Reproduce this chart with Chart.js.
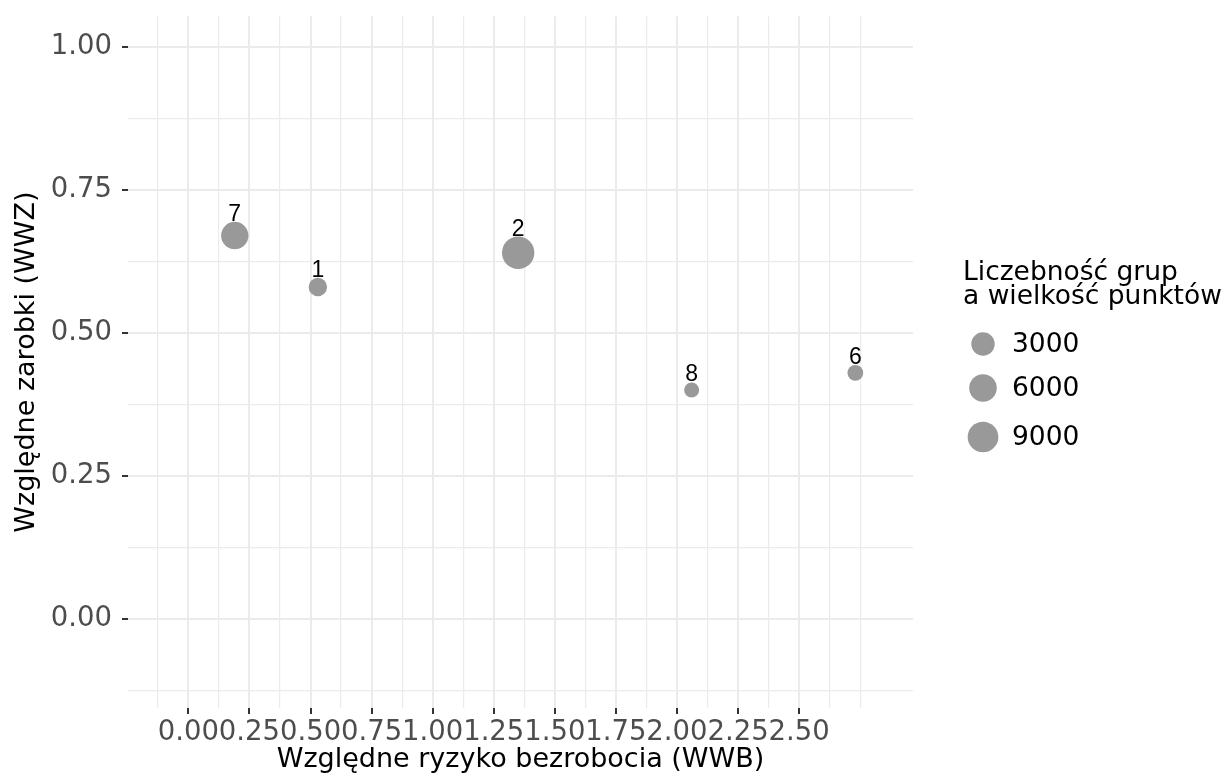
<!DOCTYPE html>
<html><head><meta charset="utf-8">
<script src="https://cdn.jsdelivr.net/npm/chart.js@4"></script>
<style>html,body{margin:0;padding:0;background:#fff}#wrap{width:1225px;height:784px;position:relative}</style>
</head><body><div id="wrap"><canvas id="c"></canvas></div>
<script>
// ---- data ----
const groups = ['7', '1', '2', '8', '6'];
const wwb = [0.19, 0.53, 1.35, 2.06, 2.73];
const wwz = [0.67, 0.58, 0.64, 0.40, 0.43];
const counts = [5800, 1000, 10900, 600, 620];
const legendBreaks = [3000, 6000, 9000];
const xMajor = [0, 0.25, 0.5, 0.75, 1, 1.25, 1.5, 1.75, 2, 2.25, 2.5];
const xMinor = [-0.125, 0.125, 0.375, 0.625, 0.875, 1.125, 1.375, 1.625, 1.875, 2.125, 2.375, 2.625, 2.75];
const yMajor = [0, 0.25, 0.5, 0.75, 1];
const yMinor = [-0.125, 0.125, 0.375, 0.625, 0.875];
const xLimits = [-0.247, 2.966];
const yLimits = [-0.156, 1.0535];
const xTitle = 'Względne ryzyko bezrobocia (WWB)';
const yTitle = 'Względne zarobki (WWZ)';
const legendTitle = ['Liczebność grup', 'a wielkość punktów'];

// ---- styles ----
const FONT = 'DejaVu Sans';
const POINT_COL = '#999999';
const GRID_COL = '#EBEBEB';
const R_MIN = 7.5, R_MAX = 16.2;
const vMin = Math.min(...counts), vMax = Math.max(...counts);
function sizeOf(v) {
  const t = Math.max(0, (v - vMin) / (vMax - vMin));
  return R_MIN + (R_MAX - R_MIN) * Math.sqrt(t);
}
const isMajor = (arr, v) => arr.some(m => Math.abs(m - v) < 1e-9);

const points = groups.map((g, i) => ({x: wwb[i], y: wwz[i], r: sizeOf(counts[i])}));

const labelPlugin = {
  id: 'pointLabels',
  afterDatasetsDraw(chart) {
    const ctx = chart.ctx;
    const meta = chart.getDatasetMeta(0);
    ctx.save();
    ctx.fillStyle = '#000';
    ctx.font = '23px "Liberation Sans"';
    ctx.textAlign = 'center';
    ctx.textBaseline = 'alphabetic';
    meta.data.forEach((el, i) => {
      const r = el.options.radius;
      ctx.fillText(groups[i], el.x, el.y - r - 1);
    });
    ctx.restore();
  }
};

const legendPlugin = {
  id: 'sizeLegend',
  afterDraw(chart) {
    const ctx = chart.ctx;
    const ca = chart.chartArea;
    const x0 = ca.right + 50;
    ctx.save();
    ctx.fillStyle = '#000';
    ctx.font = '26.5px "' + FONT + '"';
    ctx.textAlign = 'left';
    ctx.textBaseline = 'middle';
    legendTitle.forEach((t, i) => ctx.fillText(t, x0, 273 + i * 24));
    const keyX = x0 + 20;
    const keyY = [344, 388, 437];
    legendBreaks.forEach((b, i) => {
      ctx.beginPath();
      ctx.fillStyle = POINT_COL;
      ctx.arc(keyX, keyY[i], sizeOf(b), 0, Math.PI * 2);
      ctx.fill();
      ctx.fillStyle = '#000';
      ctx.fillText(String(b), keyX + 29, keyY[i] + 1);
    });
    ctx.restore();
  }
};

Chart.defaults.font.family = FONT;

new Chart(document.getElementById('c'), {
  type: 'bubble',
  data: {
    datasets: [{
      data: points,
      backgroundColor: POINT_COL,
      borderWidth: 0,
      hoverBorderWidth: 0
    }]
  },
  options: {
    responsive: true,
    maintainAspectRatio: false,
    animation: false,
    events: [],
    layout: {padding: {top: 10, right: 312, left: 0, bottom: 0}},
    plugins: {legend: {display: false}, tooltip: {enabled: false}},
    scales: {
      x: {
        type: 'linear',
        min: xLimits[0], max: xLimits[1],
        border: {display: false},
        afterBuildTicks(scale) {
          scale.ticks = [...xMajor, ...xMinor].sort((a, b) => a - b).map(v => ({value: v}));
        },
        afterFit(scale) { scale.height = 76; scale.paddingLeft = 0; scale.paddingRight = 0; },
        grid: {
          color: GRID_COL,
          lineWidth: c => isMajor(xMajor, c.tick.value) ? 2 : 1.2,
          tickColor: c => isMajor(xMajor, c.tick.value) ? '#333333' : 'rgba(0,0,0,0)',
          tickWidth: 2,
          tickLength: 6
        },
        ticks: {
          autoSkip: false, maxRotation: 0, minRotation: 0,
          padding: 2,
          color: '#4D4D4D',
          font: {size: 27.5},
          callback: v => isMajor(xMajor, v) ? v.toFixed(2) : ''
        },
        title: {display: true, text: xTitle, color: '#000', font: {size: 27}, padding: {top: 0, bottom: 8}}
      },
      y: {
        type: 'linear',
        min: yLimits[0], max: yLimits[1],
        border: {display: false},
        afterBuildTicks(scale) {
          scale.ticks = [...yMajor, ...yMinor].sort((a, b) => a - b).map(v => ({value: v}));
        },
        afterFit(scale) { scale.width = 128; scale.paddingTop = 0; scale.paddingBottom = 0; },
        grid: {
          color: GRID_COL,
          lineWidth: c => isMajor(yMajor, c.tick.value) ? 2 : 1.2,
          tickColor: c => isMajor(yMajor, c.tick.value) ? '#333333' : 'rgba(0,0,0,0)',
          tickWidth: 2,
          tickLength: 6
        },
        ticks: {
          autoSkip: false,
          padding: 10,
          color: '#4D4D4D',
          font: {size: 27.5},
          callback: v => isMajor(yMajor, v) ? v.toFixed(2) : ''
        },
        title: {display: true, text: yTitle, color: '#000', font: {size: 27}, padding: {top: 11, bottom: 0}}
      }
    }
  },
  plugins: [labelPlugin, legendPlugin]
});
</script>
</body></html>
